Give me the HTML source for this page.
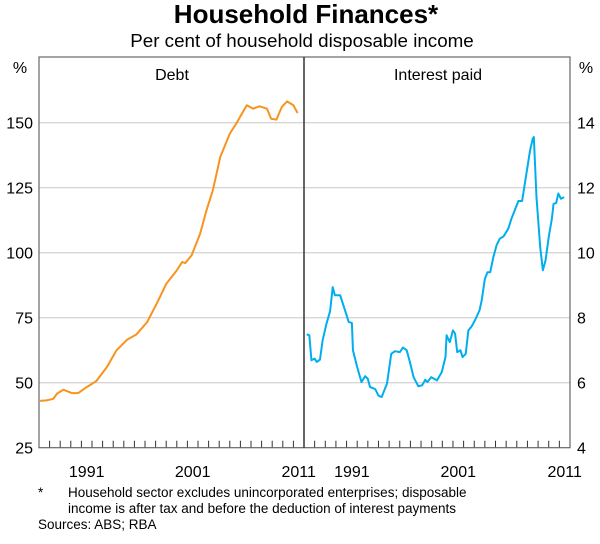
<!DOCTYPE html>
<html><head><meta charset="utf-8"><style>
body{margin:0;background:#fff;}
svg text{font-family:"Liberation Sans",Arial,sans-serif;fill:#000;}
</style></head><body>
<svg id="c" width="600" height="539">
<text x="306" y="23" text-anchor="middle" font-size="26" font-weight="bold">Household Finances*</text>
<text x="302" y="47" text-anchor="middle" font-size="18.8">Per cent of household disposable income</text>
<g id="grid"></g>
<g id="axes"></g>
<text x="172" y="80" text-anchor="middle" font-size="16">Debt</text>
<text x="438" y="80" text-anchor="middle" font-size="16">Interest paid</text>
<text x="20" y="73" text-anchor="middle" font-size="16">%</text>
<text x="586" y="73" text-anchor="middle" font-size="16">%</text>
<text x="38" y="497" font-size="13.5">*</text>
<text x="68" y="497" font-size="13.5">Household sector excludes unincorporated enterprises; disposable</text>
<text x="68" y="513" font-size="13.5">income is after tax and before the deduction of interest payments</text>
<text x="38" y="529" font-size="13.5">Sources: ABS; RBA</text>
</svg>
<script>
const debtYears=[1987.1,1987.7,1988.35,1988.7,1989.3,1990.1,1990.7,1991.5,1992.4,1993.4,1994.3,1995.3,1996.2,1997.2,1998.1,1999.0,2000.0,2000.5,2000.8,2001.4,2002.2,2002.8,2003.4,2004.1,2005.0,2005.6,2006.6,2007.2,2007.8,2008.5,2008.9,2009.4,2009.9,2010.4,2011.0,2011.4];
const debtValues=[43,43.2,43.8,45.8,47.3,46,46,48.3,50.6,56,62.4,66.5,68.6,73.3,80.4,88,93.2,96.4,96,99,107.3,116.3,124,136.8,145.8,149.6,156.7,155.4,156.3,155.4,151.5,151.2,156,158.2,156.7,153.7];
const intYears=[1987.25,1987.5,1987.7,1988.0,1988.2,1988.5,1988.75,1989.1,1989.45,1989.7,1989.9,1990.4,1990.85,1991.2,1991.5,1991.6,1992.0,1992.4,1992.75,1993.0,1993.2,1993.7,1994.0,1994.3,1994.8,1995.2,1995.55,1996.0,1996.3,1996.65,1996.95,1997.3,1997.75,1998.1,1998.4,1998.6,1998.95,1999.5,1999.95,2000.3,2000.4,2000.7,2001.0,2001.2,2001.4,2001.7,2001.9,2002.2,2002.45,2002.75,2003.1,2003.5,2003.7,2004.0,2004.25,2004.5,2004.8,2005.1,2005.4,2005.75,2006.2,2006.5,2007.15,2007.5,2007.9,2008.25,2008.5,2008.6,2008.85,2009.2,2009.45,2009.7,2010.0,2010.3,2010.45,2010.7,2010.9,2011.15,2011.45];
const intValues=[7.49,7.46,6.69,6.74,6.64,6.71,7.3,7.8,8.2,8.94,8.69,8.69,8.23,7.87,7.84,7.0,6.48,6.02,6.2,6.12,5.87,5.8,5.6,5.56,5.97,6.89,6.97,6.94,7.08,7.0,6.64,6.17,5.89,5.92,6.09,6.02,6.17,6.07,6.33,6.79,7.46,7.25,7.61,7.51,6.94,7.0,6.79,6.89,7.61,7.73,7.94,8.23,8.53,9.2,9.4,9.4,9.87,10.23,10.43,10.5,10.74,11.05,11.59,11.59,12.43,13.15,13.51,13.56,11.71,10.17,9.46,9.76,10.48,11.05,11.5,11.53,11.82,11.66,11.71];
const leftTicks=[25,50,75,100,125,150];
const rightTicks=[4,6,8,10,12,14];
const yearLabels=[1991,2001,2011];

const NS="http://www.w3.org/2000/svg";
const svg=document.getElementById('c');
const T=57,B=447.7,L1=39,R1=304,L2=304,R2=570,Y0=1987,Y1=2012;
const xL=y=>L1+(y-Y0)/(Y1-Y0)*(R1-L1);
const xR=y=>L2+(y-Y0)/(Y1-Y0)*(R2-L2);
const yLeft=v=>B-(v-25)*2.6;
const yRight=v=>B-(v-4)*32.5;
function el(t,a,p){const e=document.createElementNS(NS,t);for(const k in a)e.setAttribute(k,a[k]);(p||svg).appendChild(e);return e;}
const grid=document.getElementById('grid');
leftTicks.forEach(v=>{
  if(v>25){const g=el('line',{x1:L1,x2:R2,y1:yLeft(v),y2:yLeft(v),stroke:'#c8c8c8','stroke-width':1},grid);
  
  }
  const t=el('text',{x:33,y:yLeft(v)+6,'text-anchor':'end','font-size':16});t.textContent=v;
  
  
});
rightTicks.forEach(v=>{
  const t=el('text',{x:577,y:yRight(v)+6,'font-size':16});t.textContent=v;
  
  
});
const axes=document.getElementById('axes');
for(let y=Y0+1;y<Y1;y++){
  [xL(y),xR(y)].forEach(x=>{const tk=el('line',{x1:x,x2:x,y1:B,y2:B-7,stroke:'#333','stroke-width':1},axes);
  
  });
}
yearLabels.forEach(y=>{
  [xL,xR].forEach(f=>{const t=el('text',{x:f(y+0.5),y:477,'text-anchor':'middle','font-size':16});t.textContent=y;
  
  });
});
const frame=el('rect',{x:L1,y:T,width:R2-L1,height:B-T,fill:'none',stroke:'#666','stroke-width':1.2},axes);


const div=el('line',{x1:R1,x2:R1,y1:T,y2:B,stroke:'#333','stroke-width':1.5},axes);


const dl=el('polyline',{points:debtYears.map((y,i)=>xL(y)+','+yLeft(debtValues[i])).join(' '),fill:'none',stroke:'#f7941d','stroke-width':2,'stroke-linejoin':'round'});


const il=el('polyline',{points:intYears.map((y,i)=>xR(y)+','+yRight(intValues[i])).join(' '),fill:'none',stroke:'#00aeef','stroke-width':2,'stroke-linejoin':'round'});


</script>
</body></html>
